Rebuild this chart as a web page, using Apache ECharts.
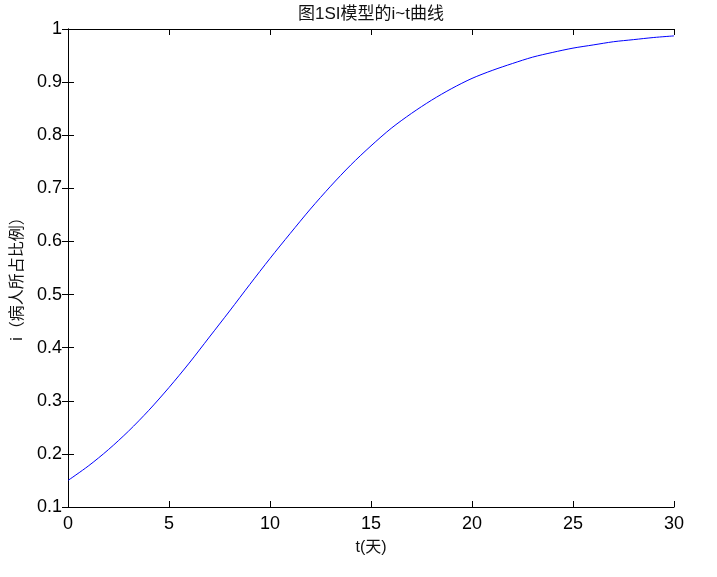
<!DOCTYPE html>
<html>
<head>
<meta charset="utf-8">
<script src="https://cdn.jsdelivr.net/npm/echarts@6/dist/echarts.min.js"></script>
<style>
html,body{margin:0;padding:0;background:#fff;}
#chart{width:717px;height:577px;}
</style>
</head>
<body>
<div id="chart"></div>
<script>
// Data
const tDays = [0,1,2,3,4,5,6,7,8,9,10,11,12,13,14,15,16,17,18,19,20,21,22,23,24,25,26,27,28,29,30];
const iRatio = [0.150,0.177,0.208,0.243,0.282,0.325,0.371,0.420,0.469,0.519,0.568,0.615,0.661,0.704,0.744,0.780,0.813,0.841,0.866,0.888,0.907,0.922,0.935,0.947,0.956,0.964,0.970,0.976,0.980,0.984,0.987];
const xTicks = [0,5,10,15,20,25,30];
const yTicks = [0.1,0.2,0.3,0.4,0.5,0.6,0.7,0.8,0.9,1];
const titleText = '图1SI模型的i~t曲线';
const xName = 't(天)';
const yName = 'i（病人所占比例）';

const FONT = 'Arial, "Liberation Sans", "Noto Sans CJK SC", sans-serif';
const FONT_TC = 'Arial, "Liberation Sans", "Noto Sans CJK TC", sans-serif';
const pts = tDays.map((t, k) => [t, iRatio[k]]);

const chart = echarts.init(document.getElementById('chart'), null, {renderer: 'canvas'});
const lineStyle = {color: '#000', width: 1};
const tick = {show: true, inside: true, length: 6, lineStyle: {color: '#000', width: 1}};
function fmt(v){ return String(+(+v).toFixed(1)); }

chart.setOption({
  animation: false,
  backgroundColor: '#fff',
  title: {
    text: titleText,
    left: 366,
    textAlign: 'center',
    top: 1,
    textStyle: {fontFamily: FONT, fontSize: 17, fontWeight: 'normal', color: '#111'}
  },
  grid: {left: 68, right: 43, top: 29, bottom: 70},
  xAxis: [{
    type: 'value', min: xTicks[0], max: xTicks[xTicks.length-1], interval: xTicks[1]-xTicks[0],
    position: 'bottom',
    name: xName, nameLocation: 'middle', nameGap: 33,
    nameTextStyle: {fontFamily: FONT, fontSize: 16, color: '#111'},
    axisLine: {show: true, lineStyle: lineStyle},
    axisTick: tick,
    axisLabel: {fontFamily: FONT, fontSize: 18, color: '#000', margin: 8, formatter: fmt},
    splitLine: {show: false}
  }, {
    type: 'value', min: xTicks[0], max: xTicks[xTicks.length-1], interval: xTicks[1]-xTicks[0],
    position: 'top',
    axisLine: {show: true, lineStyle: lineStyle},
    axisTick: tick,
    axisLabel: {show: false},
    splitLine: {show: false}
  }],
  yAxis: [{
    type: 'value', min: yTicks[0], max: yTicks[yTicks.length-1], interval: 0.1,
    position: 'left',
    name: yName, nameLocation: 'middle', nameGap: 42,
    nameTextStyle: {fontFamily: FONT_TC, fontSize: 16, color: '#111', padding: [0, 14, 0, 0]},
    axisLine: {show: true, lineStyle: lineStyle},
    axisTick: tick,
    axisLabel: {fontFamily: FONT, fontSize: 18, color: '#000', margin: 6, formatter: fmt},
    splitLine: {show: false}
  }, {
    type: 'value', min: yTicks[0], max: yTicks[yTicks.length-1], interval: 0.1,
    position: 'right',
    axisLine: {show: true, lineStyle: lineStyle},
    axisTick: tick,
    axisLabel: {show: false},
    splitLine: {show: false}
  }],
  series: [{
    type: 'line',
    xAxisIndex: 0, yAxisIndex: 0,
    data: pts,
    showSymbol: false,
    smooth: 0.3,
    lineStyle: {color: '#0000ff', width: 1},
    silent: true
  }]
});
</script>
</body>
</html>
